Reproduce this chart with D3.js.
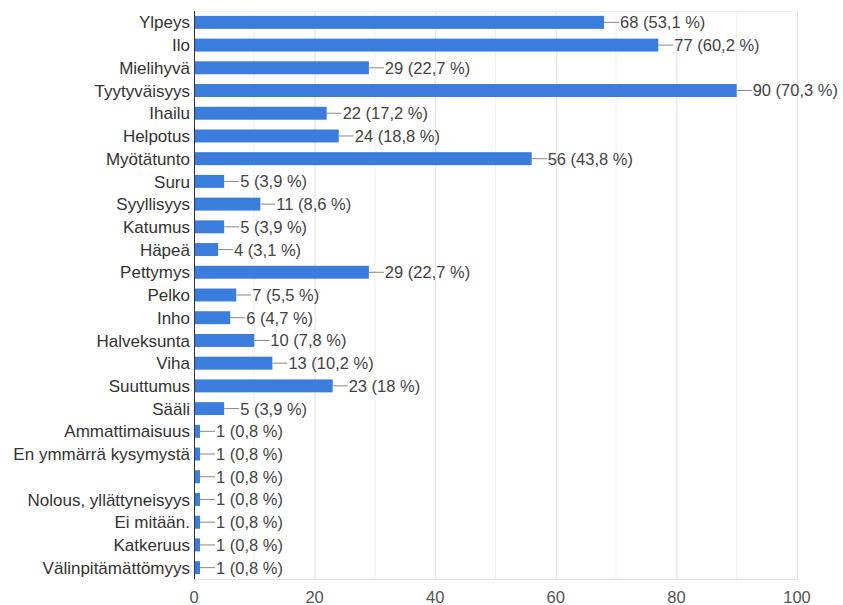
<!DOCTYPE html>
<html><head><meta charset="utf-8">
<script src="https://cdn.jsdelivr.net/npm/d3@7"></script>
<style>body{margin:0;background:#fff}svg{display:block;font-family:"Liberation Sans",Arial,sans-serif}</style>
</head><body>
<script>
const categories = ["Ylpeys","Ilo","Mielihyvä","Tyytyväisyys","Ihailu","Helpotus","Myötätunto","Suru","Syyllisyys","Katumus","Häpeä","Pettymys","Pelko","Inho","Halveksunta","Viha","Suuttumus","Sääli","Ammattimaisuus","En ymmärrä kysymystä","","Nolous, yllättyneisyys","Ei mitään.","Katkeruus","Välinpitämättömyys"];
const values = [68,77,29,90,22,24,56,5,11,5,4,29,7,6,10,13,23,5,1,1,1,1,1,1,1];
const percents = ["53,1","60,2","22,7","70,3","17,2","18,8","43,8","3,9","8,6","3,9","3,1","22,7","5,5","4,7","7,8","10,2","18","3,9","0,8","0,8","0,8","0,8","0,8","0,8","0,8"];
const xTicks = [0,20,40,60,80,100];
const minorTicks = [10,30,50,70,90];

const W=843,H=605;
const m={left:194,right:46,top:11,bottom:26};
const svg=d3.select("body").append("svg").attr("width",W).attr("height",H);
const x=d3.scaleLinear().domain([0,100]).range([m.left,W-m.right]);
const y=d3.scaleBand().domain(d3.range(categories.length)).range([m.top,H-m.bottom]).paddingInner(0.43).paddingOuter(0.215);

const g=svg.append("g");
g.selectAll(".minor").data(minorTicks).join("line")
 .attr("x1",d=>x(d)).attr("x2",d=>x(d)).attr("y1",m.top).attr("y2",H-m.bottom)
 .attr("stroke","#f0f0f0").attr("stroke-width",1);
g.selectAll(".major").data(xTicks.slice(1)).join("line")
 .attr("x1",d=>x(d)+0.5).attr("x2",d=>x(d)+0.5).attr("y1",m.top).attr("y2",H-m.bottom)
 .attr("stroke","#e2e2e2").attr("stroke-width",1);
g.append("line").attr("x1",m.left).attr("x2",x(100)).attr("y1",m.top+0.5).attr("y2",m.top+0.5).attr("stroke","#f0f0f0");
g.append("line").attr("x1",m.left).attr("x2",x(100)).attr("y1",H-m.bottom+0.5).attr("y2",H-m.bottom+0.5).attr("stroke","#e2e2e2");

g.selectAll(".bar").data(values).join("rect")
 .attr("x",x(0)).attr("y",(d,i)=>y(i)).attr("width",d=>x(d)-x(0)).attr("height",y.bandwidth())
 .attr("fill","#3b7ddd");

g.selectAll(".lead").data(values).join("line")
 .attr("x1",d=>x(d)).attr("x2",d=>x(d)+15)
 .attr("y1",(d,i)=>y(i)+y.bandwidth()/2).attr("y2",(d,i)=>y(i)+y.bandwidth()/2)
 .attr("stroke","#888").attr("stroke-width",1);
g.selectAll(".val").data(values).join("text")
 .attr("x",d=>x(d)+16).attr("y",(d,i)=>y(i)+y.bandwidth()/2).attr("dy","0.36em")
 .attr("font-size",16.5).attr("fill","#444")
 .text((d,i)=>`${d} (${percents[i]} %)`);

g.append("line").attr("x1",m.left+0.5).attr("x2",m.left+0.5).attr("y1",m.top).attr("y2",H-m.bottom)
 .attr("stroke","#333").attr("stroke-width",1);
g.selectAll(".cat").data(categories).join("text")
 .attr("x",m.left-4).attr("y",(d,i)=>y(i)+y.bandwidth()/2).attr("dy","0.36em")
 .attr("text-anchor","end").attr("font-size",17).attr("fill","#333")
 .text(d=>d);

g.selectAll(".tick").data(xTicks).join("text")
 .attr("x",d=>x(d)).attr("y",603).attr("text-anchor","middle")
 .attr("font-size",16.5).attr("fill","#555").text(d=>d);
</script>
</body></html>
